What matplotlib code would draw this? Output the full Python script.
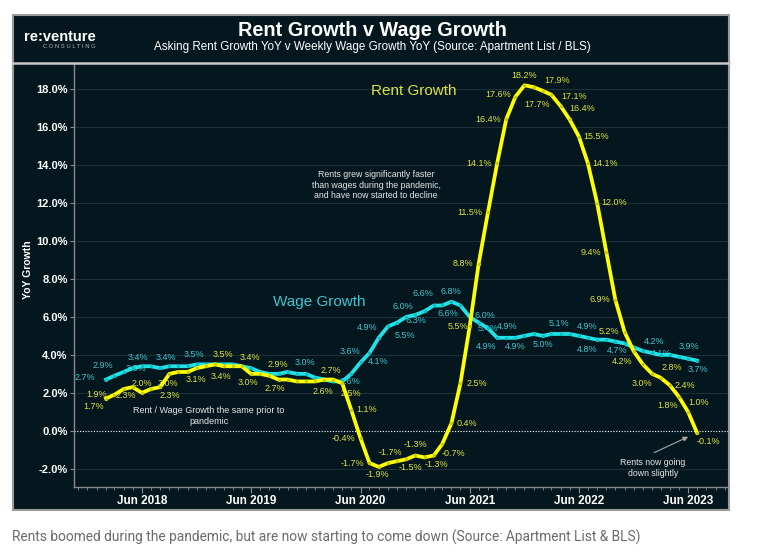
import matplotlib
matplotlib.use("Agg")
import matplotlib.pyplot as plt
import matplotlib.dates as mdates
from matplotlib.patches import Rectangle
from matplotlib.lines import Line2D
from matplotlib.ticker import FuncFormatter
import pandas as pd

plt.rcParams['font.family'] = ['Liberation Sans', 'DejaVu Sans']

# --------------------------
# DATA (monthly, Feb 2018 - Jul 2023, % YoY)
# --------------------------
months = pd.date_range('2018-02-01', periods=66, freq='MS').to_pydatetime()

rent_growth = [1.7, 1.9, 2.2, 2.3, 2.0, 2.2, 2.3, 3.0, 3.1, 3.1,
               3.3, 3.4, 3.5, 3.4, 3.4, 3.4, 3.0, 3.0, 2.9, 2.7,
               2.7, 2.6, 2.6, 2.6, 2.7, 2.7, 2.5, 1.1, -0.4, -1.7,
               -1.9, -1.7, -1.6, -1.5, -1.3, -1.4, -1.3, -0.7, 0.4, 2.5,
               5.5, 8.8, 11.5, 14.1, 16.4, 17.6, 18.2, 18.1, 17.9, 17.7,
               17.1, 16.4, 15.5, 14.1, 12.0, 9.4, 6.9, 5.2, 4.2, 3.5,
               3.0, 2.8, 2.4, 1.8, 1.0, -0.1]

wage_growth = [2.7, 2.9, 3.1, 3.3, 3.4, 3.4, 3.3, 3.4, 3.4, 3.4,
               3.5, 3.5, 3.5, 3.5, 3.5, 3.4, 3.3, 3.1, 3.0, 3.0,
               3.1, 3.0, 3.0, 2.8, 2.7, 2.6, 2.6, 3.0, 3.6, 4.1,
               4.9, 5.5, 5.7, 6.0, 6.1, 6.3, 6.6, 6.6, 6.8, 6.6,
               6.0, 5.7, 5.4, 4.9, 4.9, 4.9, 5.0, 5.1, 5.0, 5.1,
               5.1, 5.1, 5.0, 4.9, 4.8, 4.8, 4.7, 4.6, 4.4, 4.2,
               4.1, 4.0, 4.0, 3.9, 3.8, 3.7]

y_ticks = [-2, 0, 2, 4, 6, 8, 10, 12, 14, 16, 18]

# which points carry a value label: (index, dx, dy) in pixels from the point
rent_labels = [(0, -12, -8), (1, -18, 0), (3, -7, -8), (4, 0, 9), (6, 10, -8), (7, -1, -10),
               (9, 8, -8), (12, 8, 10), (13, -3, -10), (15, 8, 9), (16, -3, -9), (18, 9, 11),
               (19, -4, -9), (23, 8, -10), (25, -2, 9), (26, 9, -10), (27, 15, 0), (28, -17, 0),
               (29, -17, 0), (30, -1, -8), (31, 2, 11), (33, 4, -8), (34, 0, 11), (36, 3, -9),
               (37, 11, -9), (38, 15, 0), (39, 16, 0), (40, -12, 0), (41, -16, 0), (42, -18, 0),
               (43, -18, 0), (44, -18, 0), (45, -17, 2), (46, 0, 10), (48, 14, 10), (49, -14, -10),
               (50, 14, 10), (51, 13, 11), (52, 17, 0), (53, 17, 0), (54, 17, 0), (55, -15, 0),
               (56, -15, 0), (57, -16, 1), (58, -11, -10), (60, -10, -10), (61, 11, 10),
               (62, 15, 0), (63, -11, -9), (64, 11, 9), (65, 11, -9)]

wage_labels = [(0, -21, 2), (1, -12, 10), (3, 3, 0), (4, -4, 9), (7, -3, 9), (10, -3, 10),
               (22, -1, 11), (26, 8, 0), (28, -10, 11), (29, 9, -9), (30, -12, 10), (31, 17, -9),
               (33, -3, 10), (35, -9, -9), (36, -11, 12), (37, 6, -8), (38, -1, 10), (40, 15, 1),
               (42, 0, 0), (43, -11, -9), (44, 1, 11), (45, 0, -9), (48, 0, -9), (50, -2, 10),
               (53, -1, 11), (54, -10, -10), (56, 2, -9), (59, 11, 10), (60, 9, -1), (63, 10, 10),
               (65, 1, -9)]

# --------------------------
# COLOURS
# --------------------------
BG = '#04171f'
GRID = '#1c3039'
RENT = '#ffff00'
RENT_TXT = '#e2e23c'
WAGE = '#1fe3e8'
WAGE_TXT = '#3cc6cf'
AXIS = '#8a8a8a'

W, H = 758, 554


def fx(px):
    return px / W


def fy(py):
    return 1 - py / H


fig = plt.figure(figsize=(W / 100, H / 100), dpi=100)
fig.patch.set_facecolor('white')

# dark panel behind everything
fig.add_artist(Rectangle((fx(13), fy(510)), fx(729) - fx(13), fy(15) - fy(510),
                         transform=fig.transFigure, facecolor=BG, edgecolor='none', zorder=-1))
fig.add_artist(Rectangle((fx(13), fy(510)), fx(729) - fx(13), fy(15) - fy(510),
                         transform=fig.transFigure, facecolor='none', edgecolor='#9a9a9a',
                         lw=1.5, zorder=5))
fig.add_artist(Line2D([fx(13), fx(729)], [fy(63), fy(63)], transform=fig.transFigure,
                      color='#c8c8c8', lw=1.8, zorder=5))

# header
fig.text(fx(60), fy(37), 're:venture', color='white', fontsize=10.5, fontweight='bold',
         ha='center', va='center')
fig.text(fx(96), fy(47), 'C O N S U L T I N G', color='#b4b4b4', fontsize=4.2,
         ha='right', va='center')
fig.text(fx(372), fy(30), 'Rent Growth v Wage Growth', color='white', fontsize=14.3,
         fontweight='bold', ha='center', va='center')
fig.text(fx(372), fy(47),
         'Asking Rent Growth YoY v Weekly Wage Growth YoY (Source: Apartment List / BLS)',
         color='white', fontsize=8.4, ha='center', va='center')
fig.text(fx(28), fy(270), 'YoY Growth', color='white', fontsize=7.5, fontweight='bold',
         rotation=90, ha='center', va='center')

# caption under the panel
fig.text(fx(12), fy(537),
         'Rents boomed during the pandemic, but are now starting to come down (Source: Apartment List & BLS)',
         color='#6b6b6b', fontsize=9.9, family=['Roboto', 'DejaVu Sans'], ha='left', va='center')

# --------------------------
# PLOT AREA
# --------------------------
ax = fig.add_axes([fx(74), fy(487), fx(729) - fx(74), fy(64) - fy(487)])
ax.set_facecolor(BG)

for v in y_ticks:
    if v != 0:
        ax.axhline(v, color=GRID, lw=0.8, zorder=1)
ax.axhline(0, color='white', lw=0.8, ls=(0, (1, 1.5)), zorder=1)

ax.plot(months, wage_growth, color=WAGE, lw=2.7, marker='o', ms=2.4, mfc='#12b9bd',
        mec='none', zorder=4, solid_joinstyle='round')
ax.plot(months, rent_growth, color=RENT, lw=2.7, marker='o', ms=2.4, mfc='#c9c900',
        mec='none', zorder=5, solid_joinstyle='round')

for i, dx, dy in rent_labels:
    ax.annotate(f'{rent_growth[i]:.1f}%', (months[i], rent_growth[i]), xytext=(dx, dy),
                textcoords='offset pixels', ha='center', va='center', fontsize=6.5,
                color=RENT_TXT, zorder=3)
for i, dx, dy in wage_labels:
    ax.annotate(f'{wage_growth[i]:.1f}%', (months[i], wage_growth[i]), xytext=(dx, dy),
                textcoords='offset pixels', ha='center', va='center', fontsize=6.5,
                color=WAGE_TXT, zorder=3)

# series names and notes
ax.text(fx(414), fy(91), 'Rent Growth', transform=fig.transFigure, color=RENT_TXT,
        fontsize=11, ha='center', va='center')
ax.text(fx(319), fy(302), 'Wage Growth', transform=fig.transFigure, color=WAGE_TXT,
        fontsize=11, ha='center', va='center')
ax.text(fx(376), fy(185),
        'Rents grew significantly faster\nthan wages during the pandemic,\nand have now started to decline',
        transform=fig.transFigure, color='#e6e6e6', fontsize=6.3, ha='center', va='center',
        linespacing=1.25)
ax.text(fx(209), fy(416), 'Rent / Wage Growth the same prior to\npandemic',
        transform=fig.transFigure, color='#e6e6e6', fontsize=6.5, ha='center', va='center',
        linespacing=1.2)
ax.text(fx(653), fy(468), 'Rents now going\ndown slightly', transform=fig.transFigure,
        color='#e6e6e6', fontsize=6.3, ha='center', va='center', linespacing=1.2)
ax.annotate('', xy=(months[-1], rent_growth[-1]), xytext=(-43, -20), textcoords='offset pixels',
            arrowprops=dict(arrowstyle='-|>', color='#a8a8a8', lw=0.8, shrinkA=0, shrinkB=7,
                            mutation_scale=7))

# axes
ax.set_xlim(months[0] - pd.Timedelta(days=107), months[-1] + pd.Timedelta(days=107))
ax.set_ylim(-2.96, 19.32)
ax.set_yticks(y_ticks)
ax.yaxis.set_major_formatter(FuncFormatter(lambda v, p: f'{v:.1f}%'))
ax.xaxis.set_major_locator(mdates.MonthLocator(bymonth=6))
ax.xaxis.set_minor_locator(mdates.MonthLocator())
ax.xaxis.set_major_formatter(mdates.DateFormatter('%b %Y'))

for side in ['top', 'right']:
    ax.spines[side].set_visible(False)
for side in ['left', 'bottom']:
    ax.spines[side].set_color(AXIS)
    ax.spines[side].set_linewidth(1)

ax.tick_params(axis='y', colors=AXIS, labelcolor='white', length=3, width=0.8, pad=1.5,
               labelsize=8)
ax.tick_params(axis='x', which='major', colors=AXIS, labelcolor='white', length=4, width=0.8,
               pad=2, labelsize=8.5)
ax.tick_params(axis='x', which='minor', colors=AXIS, length=2, width=0.6)
plt.setp(ax.get_yticklabels(), fontweight='bold')
plt.setp(ax.get_xticklabels(), fontweight='bold')

fig.savefig('out.png', dpi=100, facecolor='white')
